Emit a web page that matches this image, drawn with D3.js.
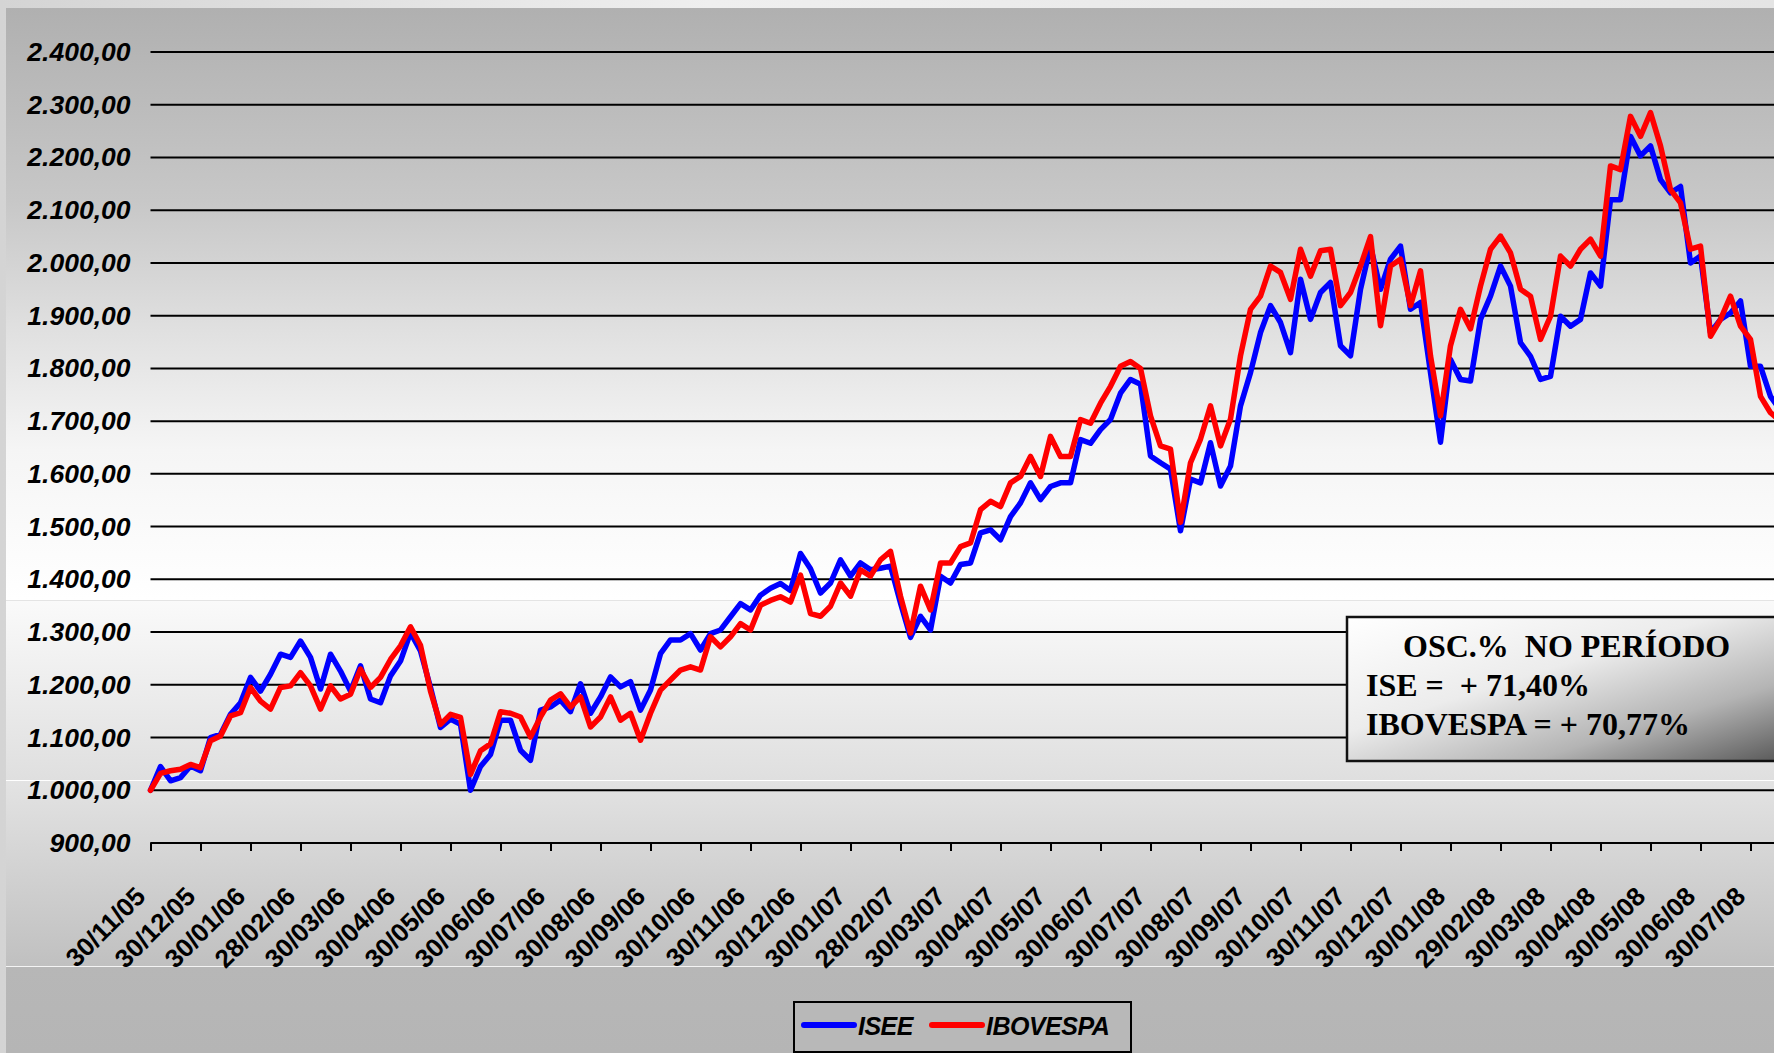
<!DOCTYPE html>
<html>
<head>
<meta charset="utf-8">
<script src="https://cdn.jsdelivr.net/npm/d3@7"></script>
<style>
  body { margin: 0; overflow: hidden; background: #e2e2e2; }
  svg { display: block; }
</style>
</head>
<body>
<div id="chart"></div>
<script>
var width = 1774,
  height = 1053;

// category labels on the x axis, one every 5 points
var tickLabels = ["30/11/05", "30/12/05", "30/01/06", "28/02/06", "30/03/06", "30/04/06", "30/05/06", "30/06/06",
  "30/07/06", "30/08/06", "30/09/06", "30/10/06", "30/11/06", "30/12/06", "30/01/07", "28/02/07", "30/03/07",
  "30/04/07", "30/05/07", "30/06/07", "30/07/07", "30/08/07", "30/09/07", "30/10/07", "30/11/07", "30/12/07",
  "30/01/08", "29/02/08", "30/03/08", "30/04/08", "30/05/08", "30/06/08", "30/07/08"];
var pointsPerLabel = 5;

var yTicks = [900, 1000, 1100, 1200, 1300, 1400, 1500, 1600, 1700, 1800, 1900, 2000, 2100, 2200, 2300, 2400];

// ISEE (blue)
var iseeValues = [1000, 1045, 1018, 1024, 1046, 1037, 1100, 1106, 1144, 1166,
  1214, 1188, 1220, 1258, 1252, 1283, 1252, 1192, 1258, 1226,
  1188, 1236, 1173, 1166, 1217, 1245, 1299, 1264, 1195, 1119,
  1135, 1125, 1000, 1045, 1068, 1133, 1133, 1076, 1057, 1152,
  1158, 1171, 1149, 1202, 1146, 1177, 1215, 1196, 1206, 1152,
  1190, 1259, 1285, 1285, 1297, 1266, 1297, 1304, 1329, 1354,
  1342, 1370, 1383, 1392, 1379, 1449, 1420, 1374, 1393, 1437,
  1406, 1431, 1418, 1421, 1425, 1355, 1290, 1330, 1304, 1406,
  1393, 1428, 1431, 1488, 1494, 1475, 1519, 1545, 1583, 1551,
  1576, 1583, 1583, 1665, 1658, 1684, 1703, 1753, 1779, 1770,
  1634, 1621, 1609, 1492, 1590, 1583, 1659, 1577, 1615, 1729,
  1792, 1868, 1919, 1887, 1830, 1969, 1893, 1944, 1963, 1843,
  1824, 1950, 2032, 1950, 2007, 2032, 1912, 1925, 1792, 1660,
  1817, 1779, 1776, 1893, 1937, 1994, 1956, 1849, 1823, 1779,
  1785, 1899, 1880, 1893, 1981, 1956, 2120, 2120, 2240, 2203,
  2222, 2158, 2133, 2145, 2000, 2013, 1868, 1893, 1905, 1928,
  1804, 1804, 1747, 1720];

// IBOVESPA (red)
var ibovValues = [1000, 1032, 1037, 1040, 1049, 1043, 1094, 1103, 1141, 1147,
  1195, 1169, 1154, 1195, 1198, 1223, 1198, 1154, 1198, 1173,
  1182, 1230, 1195, 1214, 1248, 1274, 1310, 1275, 1188, 1125,
  1144, 1138, 1030, 1075, 1088, 1149, 1146, 1139, 1101, 1139,
  1171, 1183, 1158, 1177, 1120, 1139, 1177, 1133, 1146, 1095,
  1146, 1190, 1209, 1228, 1234, 1228, 1291, 1272, 1291, 1316,
  1304, 1351, 1360, 1367, 1357, 1408, 1335, 1330, 1349, 1393,
  1368, 1418, 1406, 1437, 1453, 1368, 1298, 1387, 1342, 1431,
  1431, 1462, 1469, 1532, 1548, 1538, 1583, 1595, 1633, 1595,
  1671, 1633, 1633, 1703, 1696, 1734, 1766, 1804, 1813, 1800,
  1710, 1653, 1647, 1508, 1621, 1666, 1729, 1653, 1704, 1824,
  1912, 1937, 1994, 1982, 1931, 2026, 1975, 2023, 2026, 1919,
  1944, 1994, 2050, 1881, 1994, 2007, 1919, 1985, 1824, 1710,
  1843, 1912, 1875, 1956, 2026, 2051, 2019, 1950, 1937, 1855,
  1899, 2013, 1994, 2026, 2045, 2013, 2184, 2177, 2278, 2240,
  2285, 2222, 2139, 2114, 2026, 2032, 1861, 1893, 1937, 1880,
  1855, 1747, 1716, 1700];

var seriesNames = ["ISEE", "IBOVESPA"];
var seriesColors = ["#0000ff", "#ff0000"];
var noteLines = ["OSC.%  NO PERÍODO", "ISE =  + 71,40%", "IBOVESPA = + 70,77%"];

var ptBR = d3.formatLocale({ decimal: ",", thousands: ".", grouping: [3], currency: ["", ""] });
var fmt = ptBR.format(",.2f");

var svg = d3.select("#chart")
  .append("svg")
  .attr("width", width)
  .attr("height", height);

var defs = svg.append("defs");

// background of the slide panel
var bg = defs.append("linearGradient")
  .attr("id", "panelGrad")
  .attr("gradientUnits", "userSpaceOnUse")
  .attr("x1", 0).attr("y1", 8).attr("x2", 0).attr("y2", height);
[[8, "#b0b0b0"], [200, "#c7c7c7"], [330, "#e0e0e0"], [450, "#f5f5f5"], [600, "#ffffff"],
 [600, "#fafafa"], [780, "#dfdfdf"], [780, "#e3e3e3"], [966, "#c0c0c0"], [966, "#b7b7b7"], [1053, "#b5b5b5"]]
  .forEach(function (s) {
    bg.append("stop").attr("offset", (s[0] - 8) / (height - 8)).attr("stop-color", s[1]);
  });

var outer = defs.append("linearGradient")
  .attr("id", "outerGrad")
  .attr("x1", 0).attr("y1", 0).attr("x2", 1).attr("y2", 0);
outer.append("stop").attr("offset", 0).attr("stop-color", "#d4d4d4");
outer.append("stop").attr("offset", 0.4).attr("stop-color", "#efefef");
outer.append("stop").attr("offset", 1).attr("stop-color", "#e4e4e4");

var noteGrad = defs.append("linearGradient")
  .attr("id", "noteGrad")
  .attr("x1", 0).attr("y1", 0).attr("x2", 1).attr("y2", 1);
noteGrad.append("stop").attr("offset", 0).attr("stop-color", "#ffffff");
noteGrad.append("stop").attr("offset", 0.4).attr("stop-color", "#ececec");
noteGrad.append("stop").attr("offset", 0.7).attr("stop-color", "#b4b4b4");
noteGrad.append("stop").attr("offset", 1).attr("stop-color", "#505050");

svg.append("rect")
  .attr("width", width)
  .attr("height", height)
  .attr("fill", "url(#outerGrad)");

svg.append("rect")
  .attr("x", 6)
  .attr("y", 8)
  .attr("width", width - 6)
  .attr("height", height - 8)
  .attr("fill", "url(#panelGrad)");

// faint band edges of the slide background
[[600, "#e4e4e4"], [780, "#ffffff"], [966, "#f4f4f4"]].forEach(function (b) {
  svg.append("line")
    .attr("x1", 6).attr("x2", width)
    .attr("y1", b[0] + 0.5).attr("y2", b[0] + 0.5)
    .attr("stroke", b[1])
    .attr("stroke-width", 1.2);
});

// Scales
var nPts = (tickLabels.length - 1) * pointsPerLabel;
var x = d3.scaleLinear()
  .domain([0, nPts])
  .range([150.5, 1750.5]);

var y = d3.scaleLinear()
  .domain([900, 2400])
  .range([843, 52]);

// Grid lines
svg.append("g")
  .attr("class", "grid")
  .selectAll("line")
  .data(yTicks)
  .enter()
  .append("line")
  .attr("x1", x(0))
  .attr("x2", width)
  .attr("y1", function (d) { return y(d); })
  .attr("y2", function (d) { return y(d); })
  .attr("stroke", "#000")
  .attr("stroke-width", 2);

// Y axis labels
var yAxis = d3.axisLeft(y)
  .tickValues(yTicks)
  .tickFormat(fmt)
  .tickSize(0)
  .tickPadding(20);

var gy = svg.append("g")
  .attr("transform", "translate(" + x(0) + ",0)")
  .call(yAxis);
gy.select(".domain").remove();
gy.selectAll("text")
  .attr("fill", "#000")
  .style("font-family", "'Liberation Sans', Arial, sans-serif")
  .style("font-weight", "bold")
  .style("font-style", "italic")
  .style("font-size", "26.5px");

// X axis
var xAxis = d3.axisBottom(x)
  .tickValues(d3.range(0, nPts + 1, pointsPerLabel))
  .tickFormat(function (d) { return tickLabels[d / pointsPerLabel]; })
  .tickSize(8)
  .tickSizeOuter(0);

var gx = svg.append("g")
  .attr("transform", "translate(0," + y(900) + ")")
  .call(xAxis);
gx.select(".domain")
  .attr("d", "M" + x(0) + ",0H" + width)
  .attr("stroke", "#000")
  .attr("stroke-width", 2);
gx.selectAll(".tick line")
  .attr("stroke", "#000")
  .attr("stroke-width", 2);
gx.selectAll("text")
  .attr("fill", "#000")
  .attr("text-anchor", "end")
  .attr("y", 0)
  .attr("dy", 0)
  .attr("transform", "translate(-4,55) rotate(-45)")
  .style("font-family", "'Liberation Sans', Arial, sans-serif")
  .style("font-weight", "bold")
  .style("font-size", "26px");

// Lines
var line = d3.line()
  .x(function (d, i) { return x(i); })
  .y(function (d) { return y(d); });

[iseeValues, ibovValues].forEach(function (vals, k) {
  svg.append("path")
    .datum(vals)
    .attr("fill", "none")
    .attr("stroke", seriesColors[k])
    .attr("stroke-width", 5.5)
    .attr("stroke-linejoin", "round")
    .attr("stroke-linecap", "round")
    .attr("d", line);
});

// Note box
var note = svg.append("g").attr("transform", "translate(1347,617)");
note.append("rect")
  .attr("width", 460)
  .attr("height", 144)
  .attr("fill", "url(#noteGrad)")
  .attr("stroke", "#111")
  .attr("stroke-width", 2.5);
note.selectAll("text")
  .data(noteLines)
  .enter()
  .append("text")
  .attr("x", function (d, i) { return i === 0 ? 56 : 19; })
  .attr("y", function (d, i) { return 40 + i * 39; })
  .attr("xml:space", "preserve")
  .style("white-space", "pre")
  .style("font-family", "'Liberation Serif', 'Times New Roman', serif")
  .style("font-weight", "bold")
  .style("font-size", "32px")
  .attr("fill", "#000")
  .text(function (d) { return d; });

// Legend
var legend = svg.append("g").attr("transform", "translate(794,1002)");
legend.append("rect")
  .attr("width", 337)
  .attr("height", 50)
  .attr("fill", "#b8b8b8")
  .attr("stroke", "#000")
  .attr("stroke-width", 2);

var legendX = [8, 136];
seriesNames.forEach(function (name, k) {
  var lg = legend.append("g").attr("transform", "translate(" + legendX[k] + ",0)");
  lg.append("line")
    .attr("x1", 2).attr("x2", 52)
    .attr("y1", 23).attr("y2", 23)
    .attr("stroke", seriesColors[k])
    .attr("stroke-width", 6)
    .attr("stroke-linecap", "round");
  lg.append("text")
    .attr("x", 56)
    .attr("y", 33)
    .style("font-family", "'Liberation Sans', Arial, sans-serif")
    .style("font-weight", "bold")
    .style("font-style", "italic")
    .style("font-size", "25px")
    .style("letter-spacing", "-0.5px")
    .attr("fill", "#000")
    .text(name);
});
</script>
</body>
</html>
